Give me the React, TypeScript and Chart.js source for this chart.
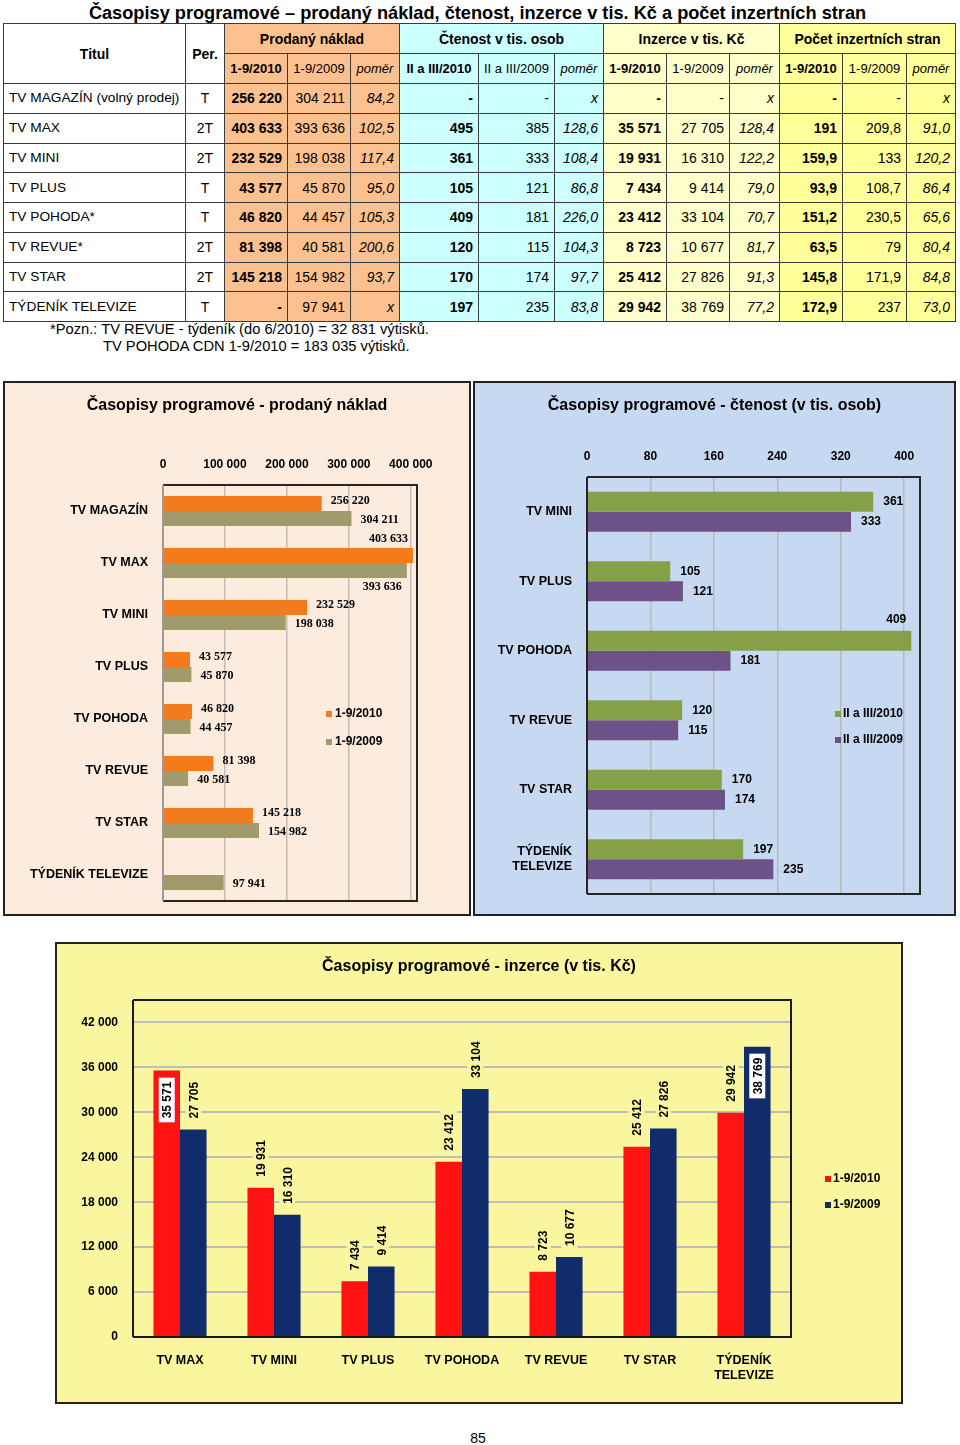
import React, { useEffect, useRef } from 'react';
import { Chart, registerables } from 'chart.js';

Chart.register(...registerables);

const FONT = 'Arial, "Liberation Sans", sans-serif';
Chart.defaults.font.family = FONT;
Chart.defaults.color = '#000';

// ---------------- table data ----------------
const tableTitles = ['TV MAGAZÍN (volný prodej)', 'TV MAX', 'TV MINI', 'TV PLUS', 'TV POHODA*', 'TV REVUE*', 'TV STAR', 'TÝDENÍK TELEVIZE'];
const tablePer = ['T', '2T', '2T', 'T', 'T', '2T', '2T', 'T'];
const tProd2010 = ['256 220', '403 633', '232 529', '43 577', '46 820', '81 398', '145 218', '-'];
const tProd2009 = ['304 211', '393 636', '198 038', '45 870', '44 457', '40 581', '154 982', '97 941'];
const tProdRatio = ['84,2', '102,5', '117,4', '95,0', '105,3', '200,6', '93,7', 'x'];
const tCt2010 = ['-', '495', '361', '105', '409', '120', '170', '197'];
const tCt2009 = ['-', '385', '333', '121', '181', '115', '174', '235'];
const tCtRatio = ['x', '128,6', '108,4', '86,8', '226,0', '104,3', '97,7', '83,8'];
const tIn2010 = ['-', '35 571', '19 931', '7 434', '23 412', '8 723', '25 412', '29 942'];
const tIn2009 = ['-', '27 705', '16 310', '9 414', '33 104', '10 677', '27 826', '38 769'];
const tInRatio = ['x', '128,4', '122,2', '79,0', '70,7', '81,7', '91,3', '77,2'];
const tPs2010 = ['-', '191', '159,9', '93,9', '151,2', '63,5', '145,8', '172,9'];
const tPs2009 = ['-', '209,8', '133', '108,7', '230,5', '79', '171,9', '237'];
const tPsRatio = ['x', '91,0', '120,2', '86,4', '65,6', '80,4', '84,8', '73,0'];

// ---------------- chart data ----------------
const pnCategories = ['TV MAGAZÍN', 'TV MAX', 'TV MINI', 'TV PLUS', 'TV POHODA', 'TV REVUE', 'TV STAR', 'TÝDENÍK TELEVIZE'];
const pn2010 = [256220, 403633, 232529, 43577, 46820, 81398, 145218, null];
const pn2009 = [304211, 393636, 198038, 45870, 44457, 40581, 154982, 97941];

const ctCategories = ['TV MINI', 'TV PLUS', 'TV POHODA', 'TV REVUE', 'TV STAR', ['TÝDENÍK', 'TELEVIZE']];
const ct2010 = [361, 105, 409, 120, 170, 197];
const ct2009 = [333, 121, 181, 115, 174, 235];

const inCategories = ['TV MAX', 'TV MINI', 'TV PLUS', 'TV POHODA', 'TV REVUE', 'TV STAR', ['TÝDENÍK', 'TELEVIZE']];
const in2010 = [35571, 19931, 7434, 23412, 8723, 25412, 29942];
const in2009 = [27705, 16310, 9414, 33104, 10677, 27826, 38769];

const fmt = (v: number) => String(v).replace(/\B(?=(\d{3})+(?!\d))/g, ' ');

// ---------------- plugins ----------------
const titlePlugin = {
  id: 'boxTitle',
  afterDraw(chart: any, _a: any, opts: any) {
    const ctx = chart.ctx;
    ctx.save();
    ctx.font = opts.font;
    ctx.fillStyle = '#000';
    ctx.textAlign = 'center';
    ctx.textBaseline = 'middle';
    ctx.fillText(opts.text, chart.width / 2, opts.y);
    ctx.restore();
  },
};

const framePlugin = {
  id: 'frame',
  afterDatasetsDraw(chart: any, _a: any, opts: any) {
    const { ctx, chartArea: a } = chart;
    ctx.save();
    ctx.lineWidth = opts.width;
    ctx.strokeStyle = opts.color;
    ctx.beginPath();
    ctx.moveTo(a.left, a.top);
    ctx.lineTo(a.right, a.top);
    ctx.lineTo(a.right, a.bottom);
    ctx.lineTo(a.left, a.bottom);
    ctx.stroke();
    ctx.strokeStyle = opts.leftColor;
    ctx.beginPath();
    ctx.moveTo(a.left, a.top);
    ctx.lineTo(a.left, a.bottom);
    ctx.stroke();
    ctx.restore();
  },
};

const legendPlugin = {
  id: 'boxLegend',
  afterDraw(chart: any, _a: any, opts: any) {
    const ctx = chart.ctx;
    ctx.save();
    ctx.font = opts.font;
    ctx.textBaseline = 'middle';
    ctx.textAlign = 'left';
    chart.data.datasets.forEach((ds: any, i: number) => {
      const y = opts.y + i * opts.gap;
      ctx.fillStyle = ds.backgroundColor;
      ctx.fillRect(opts.x, y - 3, 6, 6);
      ctx.fillStyle = '#000';
      ctx.fillText(ds.label, opts.x + opts.textGap, y);
    });
    ctx.restore();
  },
};

const hLabelPlugin = {
  id: 'hLabels',
  afterDatasetsDraw(chart: any, _a: any, opts: any) {
    const { ctx, chartArea: a } = chart;
    ctx.save();
    ctx.font = opts.font;
    ctx.fillStyle = '#000';
    ctx.textBaseline = 'middle';
    chart.data.datasets.forEach((ds: any, di: number) => {
      const meta = chart.getDatasetMeta(di);
      meta.data.forEach((bar: any, i: number) => {
        const v = ds.data[i];
        if (v == null) return;
        const t = fmt(v);
        const w = ctx.measureText(t).width;
        if (bar.x + opts.gap + w <= a.right - 2) {
          ctx.textAlign = 'left';
          ctx.fillText(t, bar.x + opts.gap, bar.y + opts.shift[di]);
        } else {
          ctx.textAlign = 'right';
          const y = di === 0 ? bar.y - bar.height / 2 - opts.out : bar.y + bar.height / 2 + opts.out;
          ctx.fillText(t, bar.x - 5, y);
        }
      });
    });
    ctx.restore();
  },
};

const vLabelPlugin = {
  id: 'vLabels',
  afterDatasetsDraw(chart: any, _a: any, opts: any) {
    const { ctx, chartArea: a } = chart;
    ctx.save();
    ctx.font = opts.font;
    chart.data.datasets.forEach((ds: any, di: number) => {
      const meta = chart.getDatasetMeta(di);
      meta.data.forEach((bar: any, i: number) => {
        const v = ds.data[i];
        if (v == null) return;
        const t = fmt(v);
        const w = ctx.measureText(t).width;
        const inside = bar.y - opts.gap - w < a.top + 30;
        const start = inside ? bar.y + opts.gap + w : bar.y - opts.gap;
        ctx.save();
        ctx.translate(bar.x, start);
        ctx.rotate(-Math.PI / 2);
        ctx.fillStyle = inside ? '#ffffff' : opts.bg;
        ctx.fillRect(-4, -8, w + 8, 16);
        ctx.fillStyle = '#000';
        ctx.textAlign = 'left';
        ctx.textBaseline = 'middle';
        ctx.fillText(t, 0, 1);
        ctx.restore();
      });
    });
    ctx.restore();
  },
};

// ticks at every step from 0 up to (and not past) the axis maximum
const fixedTicks = (step: number) => (scale: any) => {
  const arr: any[] = [];
  for (let v = 0; v <= scale.max + 1e-6; v += step) arr.push({ value: v });
  scale.ticks = arr;
};

// fix an axis box size and drop the label overhang paddings
const fitWidth = (w: number) => (s: any) => {
  s.width = w;
  s.paddingTop = 0; s.paddingBottom = 0; s.paddingLeft = 0; s.paddingRight = 0;
};
const fitHeight = (h: number) => (s: any) => {
  s.height = h;
  s.paddingTop = 0; s.paddingBottom = 0; s.paddingLeft = 0; s.paddingRight = 0;
};

// ---------------- chart configs ----------------
const titleFont = `bold 16px ${FONT}`;
const tickFont = { size: 12, weight: 'bold' as const, family: FONT };
const catFont = { size: 12.5, weight: 'bold' as const, family: FONT };

function prodanyConfig(): any {
  return {
    type: 'bar',
    data: {
      labels: pnCategories,
      datasets: [
        { label: '1-9/2010', data: pn2010, backgroundColor: '#F47B1C' },
        { label: '1-9/2009', data: pn2009, backgroundColor: '#A09A6C' },
      ],
    },
    options: {
      indexAxis: 'y',
      animation: false,
      responsive: false,
      datasets: { bar: { categoryPercentage: 0.575, barPercentage: 1 } },
      layout: { padding: { left: 0, right: 52, top: 31, bottom: 13 } },
      plugins: {
        legend: { display: false },
        tooltip: { enabled: false },
        title: { display: false },
        boxTitle: { text: 'Časopisy programové - prodaný náklad', font: titleFont, y: 23 },
        frame: { color: '#262626', leftColor: '#9a9a9a', width: 2 },
        boxLegend: { x: 321, y: 331, gap: 28, textGap: 9, font: `bold 12px ${FONT}` },
        hLabels: { font: 'bold 12px "Liberation Serif", "Times New Roman", serif', gap: 9, shift: [-3, 1], out: 9 },
      },
      scales: {
        x: {
          position: 'top',
          min: 0,
          max: 410000,
          ticks: { font: tickFont, color: '#000', padding: 13, autoSkip: false, callback: (v: number) => fmt(v) },
          grid: { color: '#C4BDB6', lineWidth: 1.5, drawTicks: false },
          border: { display: false },
          afterBuildTicks: fixedTicks(100000),
          afterFit: fitHeight(71),
        },
        y: {
          ticks: { font: catFont, color: '#000', padding: 15, autoSkip: false },
          grid: { display: false, drawTicks: false },
          border: { display: false },
          afterFit: fitWidth(158),
        },
      },
    },
    plugins: [framePlugin, hLabelPlugin, legendPlugin, titlePlugin],
  };
}

function ctenostConfig(): any {
  return {
    type: 'bar',
    data: {
      labels: ctCategories,
      datasets: [
        { label: 'II a III/2010', data: ct2010, backgroundColor: '#86A048' },
        { label: 'II a III/2009', data: ct2009, backgroundColor: '#6C5289' },
      ],
    },
    options: {
      indexAxis: 'y',
      animation: false,
      responsive: false,
      datasets: { bar: { categoryPercentage: 0.575, barPercentage: 1 } },
      layout: { padding: { left: 0, right: 34, top: 31, bottom: 20 } },
      plugins: {
        legend: { display: false },
        tooltip: { enabled: false },
        title: { display: false },
        boxTitle: { text: 'Časopisy programové - čtenost (v tis. osob)', font: titleFont, y: 23 },
        frame: { color: '#262626', leftColor: '#262626', width: 2 },
        boxLegend: { x: 360, y: 331, gap: 26, textGap: 8, font: `bold 12px ${FONT}` },
        hLabels: { font: `bold 12px ${FONT}`, gap: 10, shift: [0, 0], out: 11 },
      },
      scales: {
        x: {
          position: 'top',
          min: 0,
          max: 420,
          ticks: { font: tickFont, color: '#000', padding: 13, autoSkip: false },
          grid: { color: '#B8B8B8', lineWidth: 1.5, drawTicks: false },
          border: { display: false },
          afterBuildTicks: fixedTicks(80),
          afterFit: fitHeight(63),
        },
        y: {
          ticks: { font: catFont, color: '#000', padding: 15, autoSkip: false },
          grid: { display: false, drawTicks: false },
          border: { display: false },
          afterFit: fitWidth(112),
        },
      },
    },
    plugins: [framePlugin, hLabelPlugin, legendPlugin, titlePlugin],
  };
}

const INZ_BG = '#FAF6A0';

function inzerceConfig(): any {
  return {
    type: 'bar',
    data: {
      labels: inCategories,
      datasets: [
        { label: '1-9/2010', data: in2010, backgroundColor: '#FF1212' },
        { label: '1-9/2009', data: in2009, backgroundColor: '#112C6A' },
      ],
    },
    options: {
      animation: false,
      responsive: false,
      datasets: { bar: { categoryPercentage: 0.565, barPercentage: 1 } },
      layout: { padding: { left: 0, right: 110, top: 56, bottom: 0 } },
      plugins: {
        legend: { display: false },
        tooltip: { enabled: false },
        title: { display: false },
        boxTitle: { text: 'Časopisy programové - inzerce (v tis. Kč)', font: titleFont, y: 23 },
        frame: { color: '#1a1a1a', leftColor: '#1a1a1a', width: 2 },
        boxLegend: { x: 768, y: 235, gap: 26, textGap: 8, font: `bold 12px ${FONT}` },
        vLabels: { font: `bold 12px ${FONT}`, gap: 11, bg: INZ_BG },
      },
      scales: {
        x: {
          ticks: { font: catFont, color: '#000', padding: 16, autoSkip: false, maxRotation: 0 },
          grid: { display: false, drawTicks: false },
          border: { display: false },
          afterFit: fitHeight(65),
        },
        y: {
          min: 0,
          max: 45000,
          ticks: { font: tickFont, color: '#000', padding: 15, autoSkip: false, callback: (v: number) => fmt(v) },
          grid: { color: '#BDBDBD', lineWidth: 2, drawTicks: false },
          border: { display: false },
          afterBuildTicks: fixedTicks(6000),
          afterFit: fitWidth(76),
        },
      },
    },
    plugins: [framePlugin, vLabelPlugin, legendPlugin, titlePlugin],
  };
}

// ---------------- components ----------------
function ChartBox({ left, top, width, height, bg, border, makeConfig }: any) {
  const ref = useRef<HTMLCanvasElement | null>(null);
  const innerW = width - 2 * border;
  const innerH = height - 2 * border;
  useEffect(() => {
    const chart = new Chart(ref.current as HTMLCanvasElement, makeConfig());
    return () => chart.destroy();
  }, []);
  return (
    <div style={{ position: 'absolute', left, top, width, height, boxSizing: 'border-box', border: `${border}px solid #222`, background: bg }}>
      <canvas ref={ref} width={innerW} height={innerH} style={{ display: 'block', width: innerW, height: innerH }} />
    </div>
  );
}

const colWidths = [182, 39, 63, 63, 49, 79, 76, 49, 63, 63, 50, 63, 64, 49];

const groups = [
  { name: 'Prodaný náklad', bg: '#FAC08F', sub: ['1-9/2010', '1-9/2009', 'poměr'], cols: [tProd2010, tProd2009, tProdRatio] },
  { name: 'Čtenost v tis. osob', bg: '#CCFFFF', sub: ['II a III/2010', 'II a III/2009', 'poměr'], cols: [tCt2010, tCt2009, tCtRatio] },
  { name: 'Inzerce v tis. Kč', bg: '#FFFFCC', sub: ['1-9/2010', '1-9/2009', 'poměr'], cols: [tIn2010, tIn2009, tInRatio] },
  { name: 'Počet inzertních stran', bg: '#FFFF99', sub: ['1-9/2010', '1-9/2009', 'poměr'], cols: [tPs2010, tPs2009, tPsRatio] },
];

const cellBase: React.CSSProperties = {
  border: '1px solid #3a3a3a',
  padding: '0 5px',
  whiteSpace: 'nowrap',
  overflow: 'hidden',
  lineHeight: '16px',
};

function DataTable() {
  return (
    <table style={{ position: 'absolute', left: 3, top: 23, width: 952, borderCollapse: 'collapse', tableLayout: 'fixed', fontSize: 14, fontFamily: FONT }}>
      <colgroup>
        {colWidths.map((w, i) => <col key={i} style={{ width: w }} />)}
      </colgroup>
      <tbody>
        <tr style={{ height: 30 }}>
          <td rowSpan={2} style={{ ...cellBase, textAlign: 'center', fontWeight: 'bold', background: '#fff' }}>Titul</td>
          <td rowSpan={2} style={{ ...cellBase, textAlign: 'center', fontWeight: 'bold', background: '#fff', padding: 0 }}>Per.</td>
          {groups.map((g) => (
            <td key={g.name} colSpan={3} style={{ ...cellBase, textAlign: 'center', fontWeight: 'bold', background: g.bg }}>{g.name}</td>
          ))}
        </tr>
        <tr style={{ height: 30 }}>
          {groups.map((g) => g.sub.map((s, j) => (
            <td key={g.name + j} style={{ ...cellBase, padding: 0, fontSize: 13, textAlign: 'center', background: g.bg, fontWeight: j === 0 ? 'bold' : 'normal', fontStyle: j === 2 ? 'italic' : 'normal' }}>{s}</td>
          )))}
        </tr>
        {tableTitles.map((t, r) => (
          <tr key={t} style={{ height: 29.75 }}>
            <td style={{ ...cellBase, textAlign: 'left', background: '#fff', fontSize: 13.7 }}>{t}</td>
            <td style={{ ...cellBase, textAlign: 'center', background: '#fff' }}>{tablePer[r]}</td>
            {groups.map((g) => g.cols.map((col, j) => (
              <td key={g.name + j} style={{ ...cellBase, textAlign: 'right', background: g.bg, fontWeight: j === 0 ? 'bold' : 'normal', fontStyle: j === 2 ? 'italic' : 'normal' }}>{col[r]}</td>
            )))}
          </tr>
        ))}
      </tbody>
    </table>
  );
}

export default function App() {
  return (
    <div style={{ position: 'absolute', left: 0, top: 0, width: 960, height: 1445, background: '#fff', fontFamily: FONT, color: '#000', overflow: 'hidden' }}>
      <div style={{ position: 'absolute', left: 0, top: 2, width: 955, height: 22, lineHeight: '22px', textAlign: 'center', fontSize: 18.2, fontWeight: 'bold', whiteSpace: 'nowrap' }}>
        Časopisy programové – prodaný náklad, čtenost, inzerce v tis. Kč a počet inzertních stran
      </div>
      <DataTable />
      <div style={{ position: 'absolute', left: 50, top: 321, fontSize: 14.7, lineHeight: '17px', whiteSpace: 'nowrap' }}>
        *Pozn.: TV REVUE - týdeník (do 6/2010) = 32 831 výtisků.
      </div>
      <div style={{ position: 'absolute', left: 103, top: 338, fontSize: 14.7, lineHeight: '17px', whiteSpace: 'nowrap' }}>
        TV POHODA CDN 1-9/2010 = 183 035 výtisků.
      </div>
      <ChartBox left={3} top={381} width={468} height={535} bg="#FDEBDD" border={2} makeConfig={prodanyConfig} />
      <ChartBox left={473} top={381} width={483} height={535} bg="#C6D9F0" border={2} makeConfig={ctenostConfig} />
      <ChartBox left={55} top={942} width={848} height={462} bg={INZ_BG} border={2} makeConfig={inzerceConfig} />
      <div style={{ position: 'absolute', left: 0, top: 1430, width: 956, textAlign: 'center', fontSize: 14, lineHeight: '17px' }}>85</div>
    </div>
  );
}
